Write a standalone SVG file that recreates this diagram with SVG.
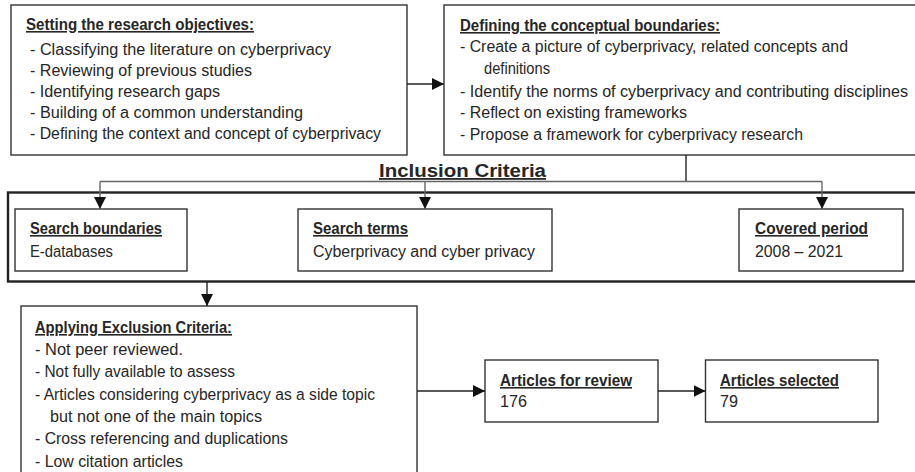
<svg xmlns="http://www.w3.org/2000/svg" width="915" height="472" viewBox="0 0 915 472">
<defs>
<marker id="ah" viewBox="0 0 12 12" refX="12" refY="6" markerWidth="12" markerHeight="12" markerUnits="userSpaceOnUse" orient="auto">
<path d="M0,0 L12,6 L0,12 Z" fill="#111"/>
</marker>
</defs>
<style>
rect{fill:#fff;stroke:#333;stroke-width:1.4}
.outer{fill:none;stroke:#222;stroke-width:2.4}
text{font-family:"Liberation Sans",Arial,sans-serif;font-size:16px;fill:#262626}
.t{font-weight:bold;text-decoration:underline}
.big{font-weight:bold;font-size:18px;text-decoration:underline}
.c{fill:none;stroke:#222;stroke-width:1.4}
.g{fill:none;stroke:#666;stroke-width:1.4}
</style>
<rect x="0" y="0" width="915" height="472" style="fill:#fff;stroke:none"/>
<g id="n-objectives">
<rect x="11" y="5" width="396" height="150"/>
<text class="t" x="26" y="30" textLength="228" lengthAdjust="spacingAndGlyphs">Setting the research objectives:</text>
<text x="30" y="55" textLength="301" lengthAdjust="spacingAndGlyphs">- Classifying the literature on cyberprivacy</text>
<text x="30" y="76" textLength="222" lengthAdjust="spacingAndGlyphs">- Reviewing of previous studies</text>
<text x="30" y="97" textLength="190" lengthAdjust="spacingAndGlyphs">- Identifying research gaps</text>
<text x="30" y="118" textLength="273" lengthAdjust="spacingAndGlyphs">- Building of a common understanding</text>
<text x="30" y="139" textLength="351" lengthAdjust="spacingAndGlyphs">- Defining the context and concept of cyberprivacy</text>
</g>
<g id="n-boundaries">
<rect x="444" y="5" width="500" height="150"/>
<text class="t" x="460" y="31" textLength="260" lengthAdjust="spacingAndGlyphs">Defining the conceptual boundaries:</text>
<text x="460" y="52" textLength="388" lengthAdjust="spacingAndGlyphs">- Create a picture of cyberprivacy, related concepts and</text>
<text x="484" y="74" textLength="66" lengthAdjust="spacingAndGlyphs">definitions</text>
<text x="460" y="97" textLength="448" lengthAdjust="spacingAndGlyphs">- Identify the norms of cyberprivacy and contributing disciplines</text>
<text x="460" y="118" textLength="227" lengthAdjust="spacingAndGlyphs">- Reflect on existing frameworks</text>
<text x="460" y="140" textLength="343" lengthAdjust="spacingAndGlyphs">- Propose a framework for cyberprivacy research</text>
</g>
<g id="n-inclusion">
<rect class="outer" x="8" y="192.5" width="930" height="89"/>
<text class="big" x="379" y="177" textLength="167" lengthAdjust="spacingAndGlyphs">Inclusion Criteria</text>
</g>
<g id="n-search-boundaries">
<rect x="15" y="209" width="172" height="62"/>
<text class="t" x="30" y="234" textLength="132" lengthAdjust="spacingAndGlyphs">Search boundaries</text>
<text x="30" y="257" textLength="83" lengthAdjust="spacingAndGlyphs">E-databases</text>
</g>
<g id="n-search-terms">
<rect x="298" y="209" width="254" height="62"/>
<text class="t" x="313" y="234" textLength="95" lengthAdjust="spacingAndGlyphs">Search terms</text>
<text x="313" y="257" textLength="222" lengthAdjust="spacingAndGlyphs">Cyberprivacy and cyber privacy</text>
</g>
<g id="n-covered-period">
<rect x="739" y="209" width="164" height="62"/>
<text class="t" x="755" y="234" textLength="113" lengthAdjust="spacingAndGlyphs">Covered period</text>
<text x="755" y="257" textLength="88" lengthAdjust="spacingAndGlyphs">2008 – 2021</text>
</g>
<g id="n-exclusion">
<rect x="21" y="306" width="396" height="200"/>
<text class="t" x="35" y="333" textLength="197" lengthAdjust="spacingAndGlyphs">Applying Exclusion Criteria:</text>
<text x="35" y="355" textLength="148" lengthAdjust="spacingAndGlyphs">- Not peer reviewed.</text>
<text x="35" y="377" textLength="200" lengthAdjust="spacingAndGlyphs">- Not fully available to assess</text>
<text x="35" y="400" textLength="340" lengthAdjust="spacingAndGlyphs">- Articles considering cyberprivacy as a side topic</text>
<text x="50" y="422" textLength="212" lengthAdjust="spacingAndGlyphs">but not one of the main topics</text>
<text x="35" y="444" textLength="253" lengthAdjust="spacingAndGlyphs">- Cross referencing and duplications</text>
<text x="35" y="467" textLength="148" lengthAdjust="spacingAndGlyphs">- Low citation articles</text>
</g>
<g id="n-review">
<rect x="485" y="360" width="173" height="62"/>
<text class="t" x="500" y="386" textLength="132" lengthAdjust="spacingAndGlyphs">Articles for review</text>
<text x="500" y="407" textLength="27" lengthAdjust="spacingAndGlyphs">176</text>
</g>
<g id="n-selected">
<rect x="705.5" y="360" width="172.5" height="62"/>
<text class="t" x="720" y="386" textLength="119" lengthAdjust="spacingAndGlyphs">Articles selected</text>
<text x="720" y="407" textLength="18" lengthAdjust="spacingAndGlyphs">79</text>
</g>
<g id="connectors">
<line class="c" x1="407" y1="84" x2="444" y2="84" marker-end="url(#ah)"/>
<line class="c" x1="686" y1="155" x2="686" y2="181.5"/>
<line class="g" x1="100" y1="181.5" x2="822" y2="181.5"/>
<line class="g" x1="100" y1="181.5" x2="100" y2="209" marker-end="url(#ah)"/>
<line class="g" x1="425" y1="181.5" x2="425" y2="209" marker-end="url(#ah)"/>
<line class="g" x1="822" y1="181.5" x2="822" y2="209" marker-end="url(#ah)"/>
<line class="c" x1="207" y1="282" x2="207" y2="306" marker-end="url(#ah)"/>
<line class="c" x1="417" y1="391" x2="485" y2="391" marker-end="url(#ah)"/>
<line class="c" x1="658" y1="391" x2="705.5" y2="391" marker-end="url(#ah)"/>
</g>
</svg>
